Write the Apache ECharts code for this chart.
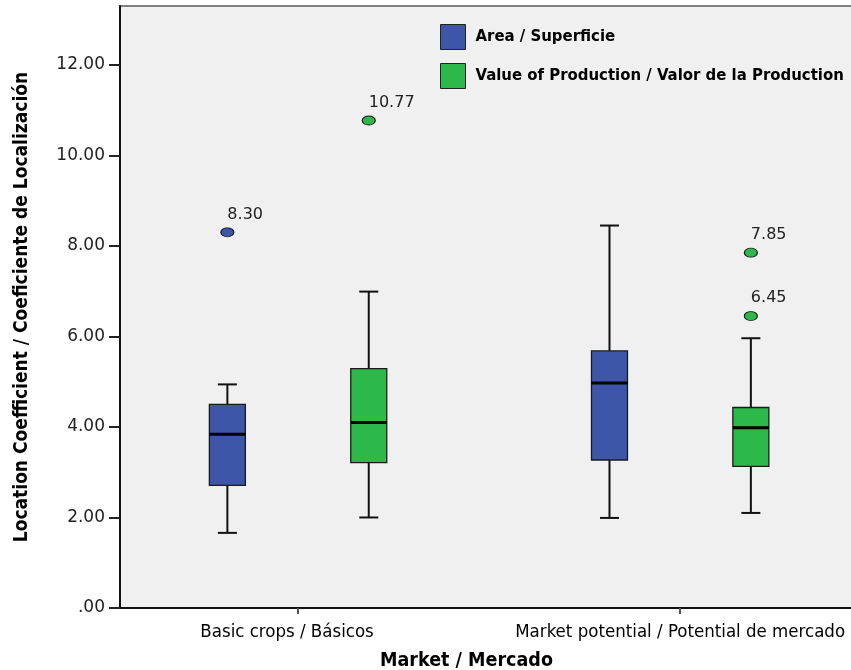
<!DOCTYPE html>
<html>
<head>
<meta charset="utf-8">
<script src="https://cdn.jsdelivr.net/npm/echarts@6/dist/echarts.min.js"></script>
<style>
  html, body { margin: 0; padding: 0; background: #ffffff; }
  #chart { width: 851px; height: 670px; }
</style>
</head>
<body>
<div id="chart"></div>
<script>
// Market groups shown along the horizontal axis
const categories = ['Basic crops / Básicos', 'Market potential / Potential de mercado'];
const seriesNames = ['Area / Superficie', 'Value of Production / Valor de la Production'];

// Box statistics per group: [groupIndex, min, Q1, median, Q3, max]
const areaBoxes = [
  [0, 1.66, 2.71, 3.84, 4.50, 4.94],
  [1, 1.99, 3.27, 4.97, 5.68, 8.45]
];
const productionBoxes = [
  [0, 2.00, 3.21, 4.10, 5.29, 6.99],
  [1, 2.10, 3.13, 3.98, 4.43, 5.96]
];

// Outliers: group index and value
const areaOutlierGroups = [0];
const areaOutlierValues = [8.30];
const productionOutlierGroups = [0, 1, 1];
const productionOutlierValues = [10.77, 7.85, 6.45];

// Y axis tick settings
const yMin = 0, yMax = 13.3, yStep = 2;

const BLUE = '#3d56a7';
const GREEN = '#2db84b';
const NARROW = "'Liberation Sans Narrow', 'DejaVu Sans Condensed', 'Roboto', sans-serif";
const TICKFONT = "'DejaVu Sans', sans-serif";

// Horizontal shift of each series inside its group, in axis units
const OFFSETS = [-0.185, 0.185];
const BOX_W = 36;
const CAP_W = 19;

function boxRenderer(offset, fill) {
  return function (params, api) {
    const g = api.value(0);
    const unit = api.size([1, 0])[0];
    const cx = api.coord([g, 0])[0] + offset * unit;
    const yMinP = api.coord([g, api.value(1)])[1];
    const yQ1 = api.coord([g, api.value(2)])[1];
    const yMed = api.coord([g, api.value(3)])[1];
    const yQ3 = api.coord([g, api.value(4)])[1];
    const yMaxP = api.coord([g, api.value(5)])[1];
    const ink = { stroke: '#111', lineWidth: 2 };
    return {
      type: 'group',
      children: [
        { type: 'line', shape: { x1: cx, y1: yMaxP, x2: cx, y2: yQ3 }, style: ink },
        { type: 'line', shape: { x1: cx, y1: yQ1, x2: cx, y2: yMinP }, style: ink },
        { type: 'line', shape: { x1: cx - CAP_W / 2, y1: yMaxP, x2: cx + CAP_W / 2, y2: yMaxP }, style: ink },
        { type: 'line', shape: { x1: cx - CAP_W / 2, y1: yMinP, x2: cx + CAP_W / 2, y2: yMinP }, style: ink },
        { type: 'rect', shape: { x: cx - BOX_W / 2, y: yQ3, width: BOX_W, height: yQ1 - yQ3 },
          style: { fill: fill, stroke: '#1a1a1a', lineWidth: 1.3 } },
        { type: 'line', shape: { x1: cx - BOX_W / 2, y1: yMed, x2: cx + BOX_W / 2, y2: yMed },
          style: { stroke: '#000', lineWidth: 3 } }
      ]
    };
  };
}

function outlierData(groups, values, offset) {
  return groups.map((g, i) => [g + offset, values[i]]);
}

const ELLIPSE = 'path://M0,5 A10,5 0 1,1 20,5 A10,5 0 1,1 0,5 Z';

function outlierSeries(name, groups, values, offset, fill) {
  return {
    name: name,
    type: 'scatter',
    xAxisIndex: 0,
    data: outlierData(groups, values, offset),
    symbol: ELLIPSE,
    symbolSize: [13, 9],
    itemStyle: { color: fill, borderColor: '#1a1a1a', borderWidth: 1, opacity: 1 },
    label: {
      show: true,
      position: 'top',
      distance: 5,
      align: 'left',
      offset: [0, 0],
      formatter: p => p.value[1].toFixed(2),
      fontFamily: TICKFONT,
      fontSize: 16,
      color: '#222'
    },
    z: 5
  };
}

const chart = echarts.init(document.getElementById('chart'), null, { renderer: 'canvas' });

chart.setOption({
  backgroundColor: '#ffffff',
  animation: false,
  grid: {
    left: 120, top: 6, right: -8, bottom: 62,
    outerBoundsMode: 'none',
    containLabel: false,
    show: true, backgroundColor: '#f0f0f0',
    borderColor: '#808080', borderWidth: 2
  },
  legend: {
    orient: 'vertical',
    left: 440, top: 24,
    padding: 0,
    itemWidth: 25, itemHeight: 25, itemGap: 13,
    icon: 'rect',
    data: seriesNames,
    itemStyle: { borderColor: '#222', borderWidth: 1 },
    textStyle: { fontFamily: NARROW, fontWeight: 'bold', fontSize: 16.6, color: '#000', padding: [0, 0, 0, 5] },
    selectedMode: false
  },
  xAxis: {
    type: 'value',
    min: -0.466, max: 1.468,
    name: 'Market / Mercado',
    nameLocation: 'middle',
    nameGap: 43,
    nameTextStyle: { fontFamily: NARROW, fontWeight: 'bold', fontSize: 19.5, color: '#000', padding: [0, 46, 0, 0] },
    axisLine: { show: true, onZero: false, lineStyle: { color: '#111', width: 2 } },
    axisTick: { show: true, length: 6, customValues: [0, 1], lineStyle: { color: '#555', width: 2 } },
    axisLabel: {
      customValues: [0, 1],
      formatter: v => (Math.round(v) === 0 ? '{first|' + categories[0] + '}' : categories[Math.round(v)]),
      rich: { first: { fontFamily: NARROW, fontSize: 18.5, color: '#000', padding: [0, 22, 0, 0] } },
      fontFamily: NARROW, fontSize: 18.5, color: '#000', margin: 15
    },
    splitLine: { show: false }
  },
  yAxis: {
    type: 'value',
    min: yMin, max: yMax, interval: yStep,
    name: 'Location Coefficient / Coeficiente de Localización',
    nameLocation: 'middle',
    nameGap: 88,
    nameTextStyle: { fontFamily: NARROW, fontWeight: 'bold', fontSize: 19, color: '#000' },
    axisLine: { show: true, onZero: false, lineStyle: { color: '#111', width: 2 } },
    axisTick: { show: true, length: 11, lineStyle: { color: '#222', width: 2 } },
    axisLabel: {
      formatter: v => (v === 0 ? '.00' : v.toFixed(2)),
      fontFamily: TICKFONT, fontSize: 17, color: '#222', margin: 15,
      showMaxLabel: false
    },
    splitLine: { show: false }
  },
  series: [
    {
      name: seriesNames[0],
      type: 'custom',
      renderItem: boxRenderer(OFFSETS[0], BLUE),
      itemStyle: { color: BLUE },
      encode: { x: 0, y: [1, 2, 3, 4, 5] },
      data: areaBoxes,
      z: 3
    },
    {
      name: seriesNames[1],
      type: 'custom',
      renderItem: boxRenderer(OFFSETS[1], GREEN),
      itemStyle: { color: GREEN },
      encode: { x: 0, y: [1, 2, 3, 4, 5] },
      data: productionBoxes,
      z: 3
    },
    outlierSeries(seriesNames[0], areaOutlierGroups, areaOutlierValues, OFFSETS[0], BLUE),
    outlierSeries(seriesNames[1], productionOutlierGroups, productionOutlierValues, OFFSETS[1], GREEN)
  ]
});
</script>
</body>
</html>
